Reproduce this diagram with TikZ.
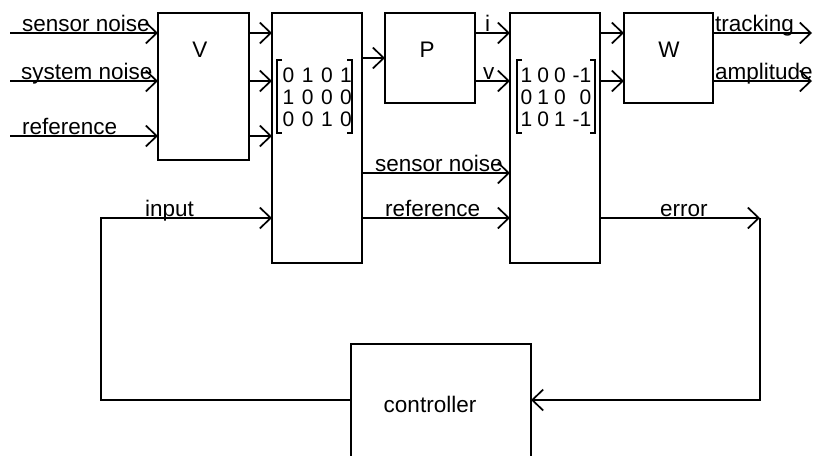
\documentclass[tikz,border=0pt]{standalone}
\usepackage{fontspec}
\setmainfont{Liberation Sans}
\usetikzlibrary{arrows.meta}
\begin{document}
\begin{tikzpicture}[x=1pt,y=-1pt,
  blk/.style={draw, line width=1.8pt, inner sep=0pt, outer sep=0pt},
  wire/.style={line width=1.7pt},
  arr/.style={wire, -{Straight Barb[length=11pt,width=21pt]}},
  brk/.style={line width=1.4pt},
  lbl/.style={font=\fontsize{22.5}{22}\selectfont, inner sep=0pt, anchor=base west},
  ttl/.style={font=\fontsize{22.5}{22}\selectfont, inner sep=0pt},
  mtx/.style={font=\fontsize{21}{22}\selectfont, inner sep=0pt, anchor=base west},
]
\useasboundingbox (0,0) rectangle (813,455);
\clip (0,0) rectangle (813,455);

% blocks
\node[blk, minimum width=91pt, minimum height=147pt] (V)  at (203.5,86.5) {};
\node[blk, minimum width=90pt, minimum height=250pt] (M1) at (317,138) {};
\node[blk, minimum width=90pt, minimum height=90pt]  (P)  at (430,58) {};
\node[blk, minimum width=90pt, minimum height=250pt] (M2) at (555,138) {};
\node[blk, minimum width=89pt, minimum height=90pt]  (W)  at (668.5,58) {};
\node[blk, minimum width=180pt, minimum height=140pt] (C) at (441,414) {};

% block titles
\node[ttl] (Vt) at (200,50) {V};
\node[ttl] (Pt) at (427,50) {P};
\node[ttl] (Wt) at (669,50) {W};
\node[ttl, anchor=base] (Ct) at (430,412) {controller};

% matrices
\node[mtx] (m1t) at (282.5,82.5)
  {\begin{tabular}[t]{@{}c@{\hspace{7.5pt}}c@{\hspace{7.5pt}}c@{\hspace{7.5pt}}c@{}}0&1&0&1\\1&0&0&0\\0&0&1&0\end{tabular}};
\draw[brk] (282,60) -- (277,60) -- (277,133) -- (282,133);
\draw[brk] (347,60) -- (352,60) -- (352,133) -- (347,133);
\node[mtx] (m2t) at (520.5,82.5)
  {\begin{tabular}[t]{@{}c@{\hspace{5pt}}c@{\hspace{5pt}}c@{\hspace{7pt}}r@{}}1&0&0&-1\\0&1&0&0\\1&0&1&-1\end{tabular}};
\draw[brk] (522,60) -- (517,60) -- (517,133) -- (522,133);
\draw[brk] (590,60) -- (595,60) -- (595,133) -- (590,133);

% external inputs
\coordinate (in1) at (10,33);
\coordinate (in2) at (10,81);
\coordinate (in3) at (10,136);
\draw[arr] (in1) -- (V.west |- in1);
\draw[arr] (in2) -- (V.west |- in2);
\draw[arr] (in3) -- (V.west |- in3);
\node[lbl] (l1) at (22,31.5) {sensor noise};
\node[lbl] (l2) at (21,79.5) {system noise};
\node[lbl] (l3) at (22,134.5) {reference};

% V -> M1
\draw[arr] (V.east |- in1) -- (M1.west |- in1);
\draw[arr] (V.east |- in2) -- (M1.west |- in2);
\draw[arr] (V.east |- in3) -- (M1.west |- in3);

% M1 -> P
\draw[arr] (M1.east |- 0,58) -- (P.west |- 0,58);

% P -> M2
\draw[arr] (P.east |- in1) -- (M2.west |- in1);
\draw[arr] (P.east |- in2) -- (M2.west |- in2);
\node[lbl] (li) at (485,31.5) {i};
\node[lbl] (lv) at (483,79.5) {v};

% M1 -> M2
\draw[arr] (M1.east |- 0,173) -- (M2.west |- 0,173);
\draw[arr] (M1.east |- 0,218) -- (M2.west |- 0,218);
\node[lbl] (l4) at (375,171.5) {sensor noise};
\node[lbl] (l5) at (385,216.5) {reference};

% M2 -> W
\draw[arr] (M2.east |- in1) -- (W.west |- in1);
\draw[arr] (M2.east |- in2) -- (W.west |- in2);

% outputs
\coordinate (o1) at (812,33);
\coordinate (o2) at (812,81);
\draw[arr] (W.east |- o1) -- (o1);
\draw[arr] (W.east |- o2) -- (o2);
\node[lbl] (l6) at (715,31.5) {tracking};
\node[lbl] (l7) at (715,79.5) {amplitude};

% feedback loop
\coordinate (fbl) at (101,400);
\coordinate (fbt) at (101,218);
\draw[arr] (C.west |- fbl) -- (fbl) -- (fbt) -- (M1.west |- fbt);
\node[lbl] (l8) at (145,216.5) {input};

\coordinate (er) at (760,218);
\coordinate (erb) at (760,400);
\draw[arr] (M2.east |- er) -- (er);
\draw[arr] (er) -- (erb) -- (C.east |- erb);
\node[lbl] (l9) at (660,216.5) {error};
\end{tikzpicture}
\end{document}
